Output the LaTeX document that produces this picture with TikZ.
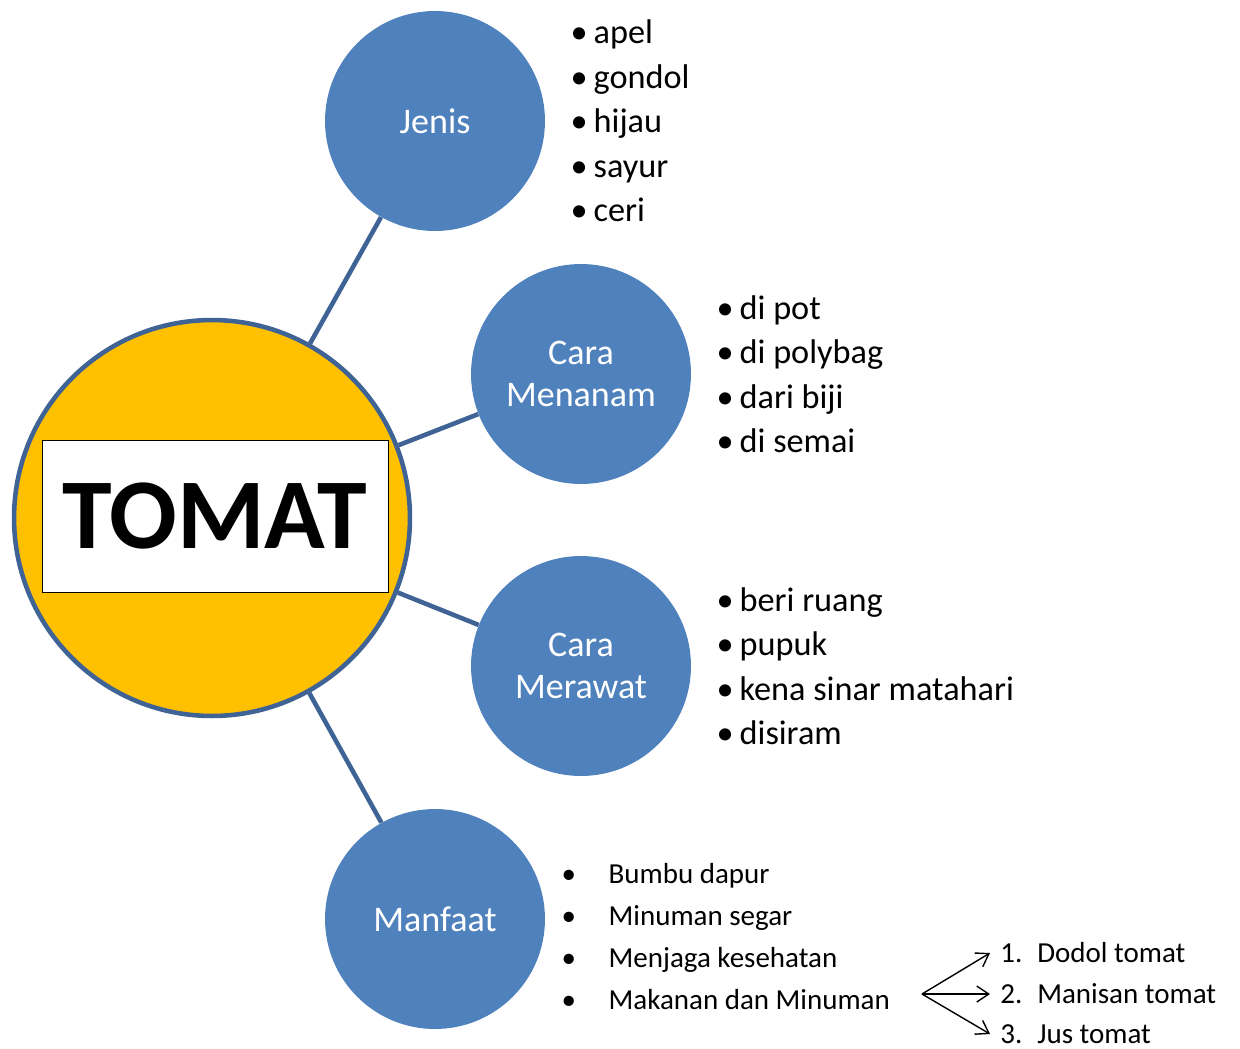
\documentclass[tikz,border=0pt]{standalone}
\usepackage{fontspec}
\setmainfont{Carlito}
\usetikzlibrary{arrows.meta,positioning}
\definecolor{topicColor}{RGB}{79,129,189}
\definecolor{lineColor}{RGB}{62,99,148}
\definecolor{tomatColor}{RGB}{255,192,0}
\tikzset{maintopic/.style={circle, fill=tomatColor, draw=lineColor, line width=2.6pt, minimum size=7.92cm, inner sep=0pt}}
\tikzset{titlebox/.style={draw=black, fill=white, line width=0.5pt, minimum width=6.92cm, minimum height=3.04cm, font=\fontsize{57}{62}\bfseries\selectfont}}
\tikzset{topic/.style={circle, fill=topicColor, text=white, align=center, minimum size=4.4cm, inner sep=0pt, font=\fontsize{20.5}{24}\selectfont}}
\tikzset{itemlist/.style={align=left, inner sep=0pt, font=\fontsize{19.5}{25.3}\selectfont}}
\tikzset{smalllist/.style={itemlist, font=\fontsize{16.5}{24}\selectfont}}
\tikzset{numitem/.style={anchor=west, inner xsep=2mm, inner ysep=0pt, font=\fontsize{16.5}{20}\selectfont}}
\tikzset{link/.style={draw=lineColor, line width=2.6pt}}
\newcommand{\bitem}{\makebox[4.6mm][l]{\textbullet}}
\newcommand{\mitem}{\makebox[9.4mm][l]{\textbullet}}
\newcommand{\nitem}[1]{\makebox[7.4mm][l]{#1}}

\begin{document}
\begin{tikzpicture}[x=0.02cm, y=-0.02cm, node distance=0.5cm]
\useasboundingbox (0,0) rectangle (1240,1048);
% Nodes
\node (tomat) [maintopic] at (212,518) {};
\node (title) [titlebox] at (215,516) {TOMAT};

\node (jenis) [topic] at (435,121) {Jenis};
\node (menanam) [topic] at (581,374) {Cara\\ Menanam};
\node (merawat) [topic] at (581,666) {Cara\\ Merawat};
\node (manfaat) [topic] at (435,919) {Manfaat};

\node (jenis_list) [itemlist, right=of jenis] {\bitem apel\\ \bitem gondol\\ \bitem hijau\\ \bitem sayur\\ \bitem ceri};
\node (menanam_list) [itemlist, right=of menanam] {\bitem di pot\\ \bitem di polybag\\ \bitem dari biji\\ \bitem di semai};
\node (merawat_list) [itemlist, right=of merawat] {\bitem beri ruang\\ \bitem pupuk\\ \bitem kena sinar matahari\\ \bitem disiram};
\node (manfaat_list) [smalllist, right=0.32cm of manfaat, yshift=-0.35cm] {\mitem Bumbu dapur\\ \mitem Minuman segar\\ \mitem Menjaga kesehatan\\ \mitem Makanan dan Minuman};

\coordinate (split) at (922,994);
\node (dodol) [numitem] at (990,953) {\nitem{1.}Dodol tomat};
\node (manisan) [numitem] at (990,994) {\nitem{2.}Manisan tomat};
\node (jus) [numitem] at (990,1034) {\nitem{3.}Jus tomat};

% Connectors
\draw [link] (tomat) -- (jenis);
\draw [link] (tomat) -- (menanam);
\draw [link] (tomat) -- (merawat);
\draw [link] (tomat) -- (manfaat);

\begin{scope}[line width=0.8pt, -{Straight Barb[length=2.4mm, width=3.2mm]}]
\draw (split) -- (dodol.west);
\draw (split) -- (manisan.west);
\draw (split) -- (jus.west);
\end{scope}

\end{tikzpicture}
\end{document}
